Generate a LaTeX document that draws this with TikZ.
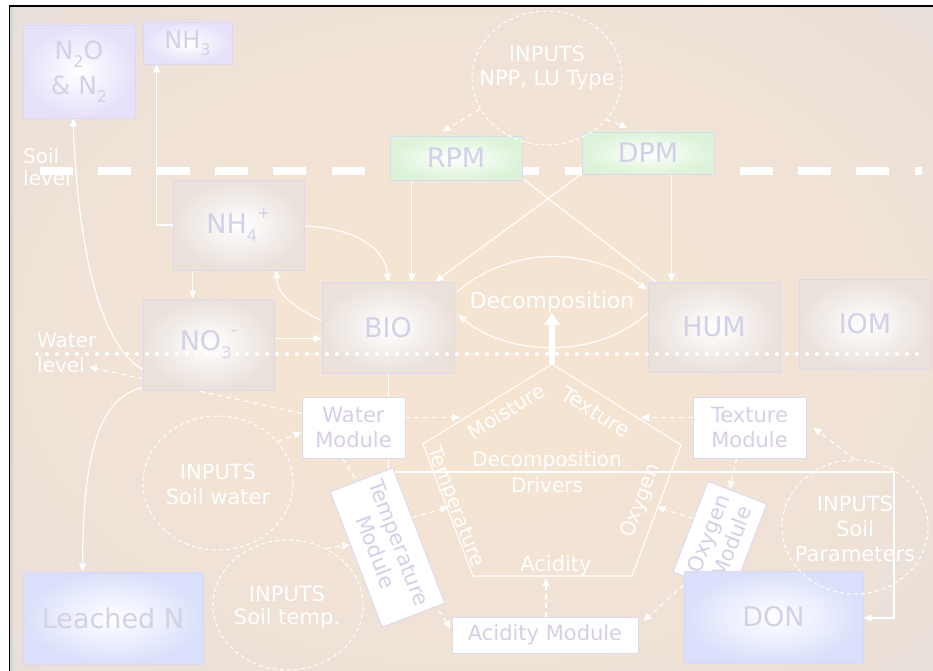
\documentclass[tikz,border=0pt]{standalone}
\usepackage{fontspec}
\setmainfont{DejaVu Sans}
\usetikzlibrary{arrows.meta,calc,shapes.geometric}
\definecolor{bgout}{HTML}{E8DFD9}
\definecolor{bgmid}{HTML}{EFE2D7}
\definecolor{bgin}{HTML}{F5E4D2}
\definecolor{lav}{HTML}{D3D1E7}
\definecolor{lavline}{HTML}{DCD8EE}
\definecolor{beigeedge}{HTML}{EAE1DB}
\definecolor{violetedge}{HTML}{E6E0FA}
\definecolor{blueedge}{HTML}{DAE0FB}
\definecolor{greenedge}{HTML}{DDF3D9}
\definecolor{framegray}{HTML}{D4D4D4}
\pgfdeclareradialshading{bgshade}{\pgfpoint{0bp}{0bp}}{color(0bp)=(bgin); color(9bp)=(bgin); color(24bp)=(bgmid); color(36bp)=(bgout); color(50bp)=(bgout)}
\pgfdeclarelayer{back}
\pgfdeclarelayer{edges}
\pgfdeclarelayer{front}
\pgfsetlayers{back,edges,main,front}
\newcommand{\dn}[1]{\raisebox{-0.3em}{\fontsize{16}{16}\selectfont #1}}
\newcommand{\upp}[1]{\raisebox{0.55em}{\fontsize{16}{16}\selectfont #1}}
\begin{document}
\begin{tikzpicture}[x=1pt,y=-1pt,
  pool/.style={draw=lavline, line width=0.8pt, inner color=white, outer color=beigeedge,
    text=lav, font=\fontsize{27}{32}\selectfont, inner sep=0pt, align=center,
    minimum width=132pt, minimum height=90pt},
  gaspool/.style={pool, outer color=violetedge},
  bluepool/.style={pool, outer color=blueedge},
  greenpool/.style={pool, outer color=greenedge, minimum height=43pt},
  module/.style={draw=lavline, line width=0.9pt, fill=white, text=lav,
    font=\fontsize{21}{25}\selectfont, inner sep=0pt, align=center},
  inputc/.style={draw=white, line width=1pt, dash pattern=on 4pt off 3pt, ellipse, inner sep=0pt},
  lbl/.style={text=white, inner sep=0pt, align=center},
  flow/.style={draw=white, line width=1.2pt, -{Triangle[length=8pt,width=7pt]}},
  flowplain/.style={draw=white, line width=1.2pt},
  ctrl/.style={draw=white, line width=1.1pt, dash pattern=on 5pt off 4pt, -{Triangle[length=8pt,width=7pt]}},
]
\useasboundingbox (0,0) rectangle (933,671);

% ---------- pools ----------
\node[gaspool, minimum width=112pt, minimum height=93pt, font=\fontsize{25}{35}\selectfont] (n2o) at (79,71.5) {N\dn{2}O\\\& N\dn{2}};
\node[gaspool, minimum width=89pt, minimum height=42pt, font=\fontsize{24}{28}\selectfont] (nh3) at (187.5,43) {NH\dn{3}};
\node[greenpool, minimum height=44pt] (rpm) at (456,158) {RPM};
\node[greenpool, minimum height=42pt] (dpm) at (648,153) {DPM};
\node[pool, minimum width=131pt] (nh4) at (238.5,225) {NH\dn{4}\upp{+}};
\node[pool, minimum width=131pt, minimum height=91pt] (no3) at (208.5,344.5) {NO\dn{3}\upp{-}};
\node[pool, minimum height=91pt] (bio) at (388,327.5) {BIO};
\node[pool] (hum) at (714,327) {HUM};
\node[pool] (iom) at (865,324) {IOM};
\node[bluepool, minimum width=180pt, minimum height=92pt] (leached) at (113,618) {Leached N};

% ---------- modules ----------
\node[module, minimum width=103pt, minimum height=61pt] (wm) at (353.5,427.5) {Water\\Module};
\node[module, minimum width=113pt, minimum height=61pt] (tmod) at (749.5,427.5) {Texture\\Module};
\node[module, minimum width=186pt, minimum height=36pt] (am) at (545,635) {Acidity Module};
\node[module, rotate=-69, minimum width=145pt, minimum height=67pt] (tm) at (387.5,547.5) {Temperature\\Module};
\node[module, rotate=69, minimum width=97pt, minimum height=63pt] (om) at (720,538) {Oxygen\\Module};
\node[bluepool, minimum width=179pt, minimum height=92pt] (don) at (773.5,617) {DON};

% ---------- input circles ----------
\node[inputc, minimum width=150pt, minimum height=134pt] (cnpp) at (547,78) {};
\node[lbl, font=\fontsize{21}{24}\selectfont] (tnpp) at (547,68) {INPUTS\\NPP, LU Type};
\node[inputc, minimum width=150pt, minimum height=134pt] (csw) at (218,483) {};
\node[lbl, font=\fontsize{21}{25}\selectfont] (tsw) at (218,484) {INPUTS\\Soil water};
\node[inputc, minimum width=150pt, minimum height=130pt] (cst) at (288,605) {};
\node[lbl, font=\fontsize{21}{23}\selectfont] (tst) at (287,607) {INPUTS\\Soil temp.};
\node[inputc, minimum width=146pt, minimum height=134pt] (csp) at (855,527) {};
\node[lbl, font=\fontsize{21}{25}\selectfont] (tsp) at (855,529) {INPUTS\\Soil\\Parameters};

% ---------- pentagon ----------
\coordinate (pa) at (552,364);
\coordinate (pl) at (423,444);
\coordinate (pr) at (681,445);
\coordinate (pbl) at (473,576);
\coordinate (pbr) at (632,576);
\draw[white, line width=1.1pt] (pa) -- (pr) -- (pbr) -- (pbl) -- (pl) -- cycle;
\coordinate (pmoist) at (460,417.5);
\coordinate (ptext) at (641,417.5);
\coordinate (ptemp) at (448,507);
\coordinate (pox) at (657,507);
\coordinate (pacid) at (546,578);
\coordinate (wltip) at (89,367);
\coordinate (bd) at (894,472);

% ---------- back layer ----------
\begin{pgfonlayer}{back}
\fill[white] (0,0) rectangle (933,671);
\shade[shading=bgshade] (12,7) rectangle (933,671);
\draw[framegray, line width=3pt] (11.5,7) -- (11.5,671);
\draw[black, line width=1.5pt] (9.5,671) -- (9.5,6) -- (933,6);
\draw[white, line width=8pt, dash pattern=on 33pt off 25.3pt] (40,171) -- (922,171);
\end{pgfonlayer}

% ---------- connectors ----------
\begin{pgfonlayer}{edges}
\draw[flow] ($(no3.west)+(0,25)$) .. controls (100,345) and (78,250) .. ($(n2o.south)+(-6,0)$);
\draw[flow] (nh4.west) -| ($(nh3.south west)+(14,0)$);
\draw[flow] ($(nh4.south west)+(20,0)$) -- ($(no3.north west)+(50,0)$);
\draw[flow] ($(nh4.east)+(0,1)$) .. controls (360,228) and (386,252) .. (bio.north);
\draw[flow] ($(bio.west)+(0,-7)$) .. controls (290,306) and (277,292) .. ($(nh4.south east)+(-28,0)$);
\draw[flow] ($(no3.east)+(0,-6)$) -- ($(bio.west)+(0,11)$);
\draw[flow] ($(rpm.south west)+(22,0)$) -- ($(bio.north west)+(90,0)$);
\draw[flowplain] ($(rpm.south east)+(0,-2)$) -- ($(hum.north west)+(8,0)$);
\draw[flow] ($(dpm.south west)+(2,-2)$) -- ($(bio.north east)+(-19,0)$);
\draw[flow] ($(dpm.south west)+(90,0)$) -- ($(hum.north west)+(24,0)$);
\draw[flow] ($(bio.north east)+(3,10)$) .. controls (510,246) and (590,246) .. ($(hum.north west)+(-1,8)$);
\draw[flow] ($(hum.west)+(0,-14)$) .. controls (600,358) and (510,358) .. ($(bio.east)+(4,-12.5)$);
\draw[flow] ($(no3.south west)+(0,-3)$) .. controls (100,398) and (83,450) .. ($(leached.north west)+(60,0)$);
\draw[flow] ($(bio.south west)+(67,0)$) |- (bd) |- ($(don.east)+(0,1)$);
% dashed control arrows
\draw[ctrl] ($(wm.west)+(0,-14)$) -- (wltip);
\draw[ctrl] (csw.35) -- ($(wm.south west)+(0,-26)$);
\draw[ctrl] (cst.56) -- ($(tm.south west)!0.39!(tm.south east)$);
\draw[ctrl] ($(tm.north west)!0.37!(tm.north east)$) -- (ptemp);
\draw[ctrl] ($(wm.south west)+(41,0)$) -- ($(am.north west)+(-1,12)$);
\draw[ctrl] ($(wm.east)+(0,-10)$) -- (pmoist);
\draw[ctrl] ($(tmod.west)+(0,-10)$) -- (ptext);
\draw[ctrl] ($(tmod.south west)+(44,0)$) -- ($(om.north east)!0.37!(om.south east)$);
\draw[ctrl] ($(om.north east)!0.41!(om.north west)$) -- (pox);
\draw[ctrl] ($(om.north west)!0.3!(om.south west)$) -- ($(am.east)+(5,-14)$);
\draw[ctrl] ($(am.north)+(1,0)$) -- (pacid);
\draw[ctrl] (csp.north) -- ($(tmod.east)+(7,0)$);
\draw[ctrl] (cnpp.205) -- ($(rpm.north west)+(53,-4)$);
\draw[ctrl] (cnpp.-35) -- ($(dpm.north west)+(46,-4)$);
\end{pgfonlayer}

% ---------- front ----------
\begin{pgfonlayer}{front}
\draw[white, line width=4pt, line cap=round, dash pattern=on 0pt off 10pt] (37,354) -- (922,354);
\node[lbl, align=left, anchor=west, font=\fontsize{20}{22}\selectfont] (soil) at (23,167) {Soil\\level};
\node[lbl, align=left, anchor=west, font=\fontsize{20}{25}\selectfont] (wlev) at (37,353) {Water\\level};
\node[lbl, font=\fontsize{22}{22}\selectfont] (dec) at (552,302) {Decomposition};
\draw[white, line width=5.5pt, -{Triangle[length=12pt,width=15pt]}] (pa) -- (dec.south);
\node[lbl, rotate=32, font=\fontsize{20}{20}\selectfont] (lmoist) at (506,411) {Moisture};
\node[lbl, rotate=-32, font=\fontsize{21}{21}\selectfont] (ltext) at (596,412) {Texture};
\node[lbl, rotate=-69, font=\fontsize{20}{20}\selectfont] (ltemp) at (455,507) {Temperature};
\node[lbl, rotate=69, font=\fontsize{20}{20}\selectfont] (loxy) at (641,501) {Oxygen};
\node[lbl, font=\fontsize{21}{21}\selectfont] (lacid) at (556,566) {Acidity};
\node[lbl, font=\fontsize{20}{26}\selectfont] (ldd) at (547,472) {Decomposition\\Drivers};
\end{pgfonlayer}
\end{tikzpicture}
\end{document}
